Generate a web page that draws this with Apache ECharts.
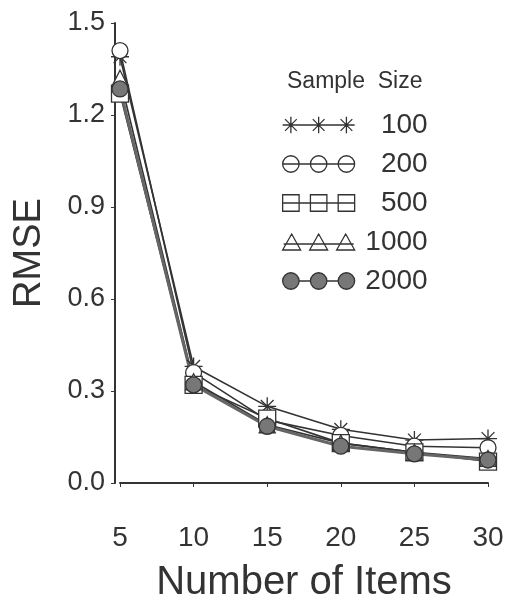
<!DOCTYPE html>
<html>
<head>
<meta charset="utf-8">
<script src="https://cdn.jsdelivr.net/npm/echarts@6/dist/echarts.min.js"></script>
<style>
  html, body { margin: 0; padding: 0; background: #fff; }
  #chart { width: 507px; height: 608px; }
</style>
</head>
<body>
<div id="chart"></div>
<script>
// number of items (x) and RMSE per sample size
var items = [5, 10, 15, 20, 25, 30];
var sizeNames = ['100', '200', '500', '1000', '2000'];
var rmse100 = [1.39, 0.38, 0.25, 0.175, 0.14, 0.145];
var rmse200 = [1.41, 0.36, 0.205, 0.155, 0.12, 0.115];
var rmse500 = [1.27, 0.32, 0.21, 0.13, 0.10, 0.07];
var rmse1000 = [1.32, 0.33, 0.19, 0.13, 0.10, 0.08];
var rmse2000 = [1.285, 0.32, 0.185, 0.12, 0.095, 0.075];
var yTicks = [0, 0.3, 0.6, 0.9, 1.2, 1.5];

var ink = '#333';
var font = '"Liberation Sans", Arial, sans-serif';

function pairs(vals) {
	return items.map(function (x, i) { return [x, vals[i]]; });
}

// legend icons: three markers joined by a line
var centers = [9, 36, 63];
function tripleIcon(shape) {
	var p = '';
	centers.forEach(function (c) {
		if (shape == 'star') {
			p += 'M' + (c - 8) + ',9L' + (c + 8) + ',9M' + c + ',1L' + c + ',17' +
				'M' + (c - 5.7) + ',3.3L' + (c + 5.7) + ',14.7M' + (c - 5.7) + ',14.7L' + (c + 5.7) + ',3.3';
		} else if (shape == 'circle') {
			p += 'M' + (c + 8) + ',9A8,8 0 1,1 ' + (c - 8) + ',9A8,8 0 1,1 ' + (c + 8) + ',9Z';
		} else if (shape == 'rect') {
			p += 'M' + (c - 8) + ',1L' + (c + 8) + ',1L' + (c + 8) + ',17L' + (c - 8) + ',17Z';
		} else if (shape == 'triangle') {
			p += 'M' + c + ',1L' + (c + 9) + ',17L' + (c - 9) + ',17Z';
		}
	});
	if (shape == 'triangle') p += 'M' + 1 + ',11L71,11';
	else if (shape == 'filled') {
		centers.forEach(function (c) {
			p += 'M' + (c + 8) + ',9A8,8 0 1,1 ' + (c - 8) + ',9A8,8 0 1,1 ' + (c + 8) + ',9Z';
		});
		p += 'M17,9L28,9M44,9L55,9';
	} else p += 'M1,9L71,9';
	return 'path://' + p;
}

var starSymbol = 'path://M-8,0L8,0M0,-8L0,8M-5.7,-5.7L5.7,5.7M-5.7,5.7L5.7,-5.7';

function mkSeries(name, vals, symbol, size, fill, lineWidth, lineColor) {
	return {
		name: name,
		type: 'line',
		data: pairs(vals),
		symbol: symbol,
		symbolSize: size,
		showSymbol: true,
		lineStyle: { color: lineColor || ink, width: lineWidth || 1.6 },
		itemStyle: { color: fill, borderColor: ink, borderWidth: 1.3 },
		emphasis: { disabled: true },
		z: 2
	};
}

var chart = echarts.init(document.getElementById('chart'));
chart.setOption({
	backgroundColor: '#fff',
	animation: false,
	title: {
		text: 'Sample  Size',
		left: 282,
		top: 65,
		textStyle: { fontFamily: font, fontSize: 23, fontWeight: 'normal', color: ink }
	},
	legend: {
		orient: 'vertical',
		left: 277,
		top: 106,
		itemWidth: 72,
		itemHeight: 17,
		itemGap: 11,
		itemStyle: { borderWidth: 1.3 },
		data: [
			{ name: sizeNames[0], icon: tripleIcon('star') },
			{ name: sizeNames[1], icon: tripleIcon('circle') },
			{ name: sizeNames[2], icon: tripleIcon('rect') },
			{ name: sizeNames[3], icon: tripleIcon('triangle') },
			{ name: sizeNames[4], icon: tripleIcon('filled') }
		],
		formatter: function (n) { return '{a|' + n + '}'; },
		textStyle: {
			fontFamily: font, color: ink,
			rich: { a: { fontFamily: font, fontSize: 28, color: ink, width: 68, align: 'right' } }
		}
	},
	grid: { left: 120, right: 19, top: 23, bottom: 117 },
	xAxis: {
		type: 'value',
		min: 5,
		max: 30,
		interval: 5,
		offset: 9,
		name: 'Number of Items',
		nameLocation: 'middle',
		nameGap: 71,
		nameTextStyle: { fontFamily: font, fontSize: 40, color: ink },
		axisLine: { show: true, lineStyle: { color: ink, width: 2 } },
		axisTick: { show: true, length: 4, lineStyle: { color: ink } },
		axisLabel: { margin: 32, fontFamily: font, fontSize: 28, color: ink },
		splitLine: { show: false }
	},
	yAxis: {
		type: 'value',
		min: yTicks[0],
		max: yTicks[yTicks.length - 1],
		interval: 0.3,
		offset: 5,
		name: 'RMSE',
		nameLocation: 'middle',
		nameGap: 66,
		nameTextStyle: { fontFamily: font, fontSize: 38, color: ink },
		axisLine: { show: true, lineStyle: { color: ink, width: 2 } },
		axisTick: { show: true, length: 4, lineStyle: { color: ink } },
		axisLabel: {
			margin: 10, fontFamily: font, fontSize: 27, color: ink,
			formatter: function (v) { return v.toFixed(1); }
		},
		splitLine: { show: false }
	},
	series: [
		mkSeries(sizeNames[0], rmse100, starSymbol, 18, '#fff'),
		mkSeries(sizeNames[1], rmse200, 'circle', 16, '#fff'),
		mkSeries(sizeNames[2], rmse500, 'rect', 17, '#fff'),
		mkSeries(sizeNames[3], rmse1000, 'triangle', 16, '#fff'),
		mkSeries(sizeNames[4], rmse2000, 'circle', 16, '#777', 3, '#666')
	]
});
</script>
</body>
</html>
